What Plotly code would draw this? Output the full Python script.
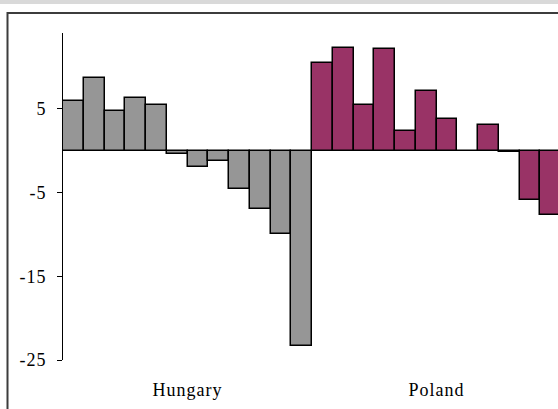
import plotly.graph_objects as go

countries = ["Hungary", "Poland"]
hungary_values = [5.9, 8.7, 4.7, 6.3, 5.4, -0.4, -2.0, -1.2, -4.6, -7.0, -10.0, -23.3]
poland_values = [10.5, 12.3, 5.4, 12.1, 2.4, 7.1, 3.8, 0.0, 3.1, -0.2, -5.9, -7.7]
y_tickvals = [5, -5, -15, -25]
colors = {"Hungary": "#969696", "Poland": "#993366"}

W, H = 558, 409
L, T, B = 63, 33, 49
plot_w = W - L
plot_h = H - T - B

n_h = len(hungary_values)
n_p = len(poland_values)
x_h = list(range(n_h))
x_p = list(range(n_h, n_h + n_p))

fig = go.Figure()
fig.add_trace(go.Bar(x=x_h, y=hungary_values, width=1, name=countries[0],
                     marker=dict(color=colors["Hungary"], line=dict(color="black", width=1.5))))
fig.add_trace(go.Bar(x=x_p, y=poland_values, width=1, name=countries[1],
                     marker=dict(color=colors["Poland"], line=dict(color="black", width=1.5))))

px_per_bar = 20.75
x_max = -0.5 + plot_w / px_per_bar

def px_to_paper_x(px):
    return (px - L) / plot_w

def py_to_paper_y(py):
    return (T + plot_h - py) / plot_h

shapes = [
    dict(type="rect", xref="paper", yref="paper",
         x0=px_to_paper_x(-5), x1=px_to_paper_x(W + 5),
         y0=py_to_paper_y(4), y1=py_to_paper_y(-5),
         fillcolor="#d9d9d9", line=dict(width=0), layer="below"),
    dict(type="rect", xref="paper", yref="paper",
         x0=px_to_paper_x(7.5), x1=px_to_paper_x(W + 30),
         y0=py_to_paper_y(H + 30), y1=py_to_paper_y(13),
         line=dict(color="#3c3c3c", width=2), fillcolor="rgba(0,0,0,0)", layer="below"),
]

fig.update_layout(
    width=W, height=H,
    margin=dict(l=L, r=0, t=T, b=B, autoexpand=False),
    paper_bgcolor="white", plot_bgcolor="white",
    showlegend=False, bargap=0, barmode="overlay",
    font=dict(family="Liberation Serif, Times New Roman, serif", size=18, color="black"),
    shapes=shapes,
    xaxis=dict(range=[-0.5, x_max], tickvals=[(n_h - 1) / 2, n_h + (n_p - 1) / 2],
               ticktext=countries, ticks="", showline=False, showgrid=False,
               zeroline=False, ticklabelstandoff=17, tickfont=dict(size=18)),
    yaxis=dict(range=[-25, 14.05], tickvals=y_tickvals, ticktext=[str(v) for v in y_tickvals],
               showline=True, linecolor="black", linewidth=1,
               ticks="outside", ticklen=5, tickcolor="black", tickwidth=1,
               showgrid=False, zeroline=True, zerolinecolor="black", zerolinewidth=1,
               ticklabelstandoff=7, tickfont=dict(size=18)),
)

post = (
    "document.body.style.margin='0';"
    "document.querySelectorAll('.xtick text').forEach(function(t){t.style.letterSpacing='1px';});"
    "document.querySelectorAll('.ytick text').forEach(function(t){t.style.letterSpacing='1px';});"
)

fig.write_html("out.html", post_script=post, config={"displayModeBar": False})
